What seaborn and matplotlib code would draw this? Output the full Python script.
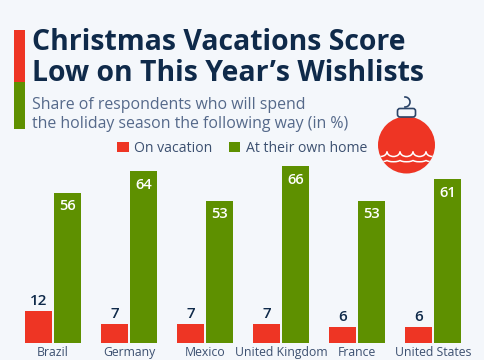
import numpy as np
import pandas as pd
import matplotlib
matplotlib.use("Agg")
import matplotlib.pyplot as plt
from matplotlib.patches import Rectangle, Circle, FancyBboxPatch, Arc
import seaborn as sns

countries = ["Brazil", "Germany", "Mexico", "United Kingdom", "France", "United States"]
on_vacation = [12, 7, 7, 7, 6, 6]
at_home = [56, 64, 53, 66, 53, 61]
series_names = ["On vacation", "At their own home"]

BG = "#f4f7fb"; RED = "#ee3524"; GREEN = "#5e9000"; NAVY = "#0f2a4a"; SLATE = "#55698a"; MID = "#3c5070"

sns.set_theme(style="white")
plt.rcParams["font.family"] = ["Open Sans", "DejaVu Sans"]
W, H = 485, 360
fig = plt.figure(figsize=(W/100, H/100), dpi=100, facecolor=BG)

df = pd.DataFrame({
    "country": countries * 2,
    "value": on_vacation + at_home,
    "series": [series_names[0]] * 6 + [series_names[1]] * 6,
})

base = 342.7
top = 60.0
ax = fig.add_axes([15/W, (H-base)/H, 456/W, (base-top)/H])
ax.set_facecolor("none")
sns.barplot(data=df, x="country", y="value", hue="series", order=countries,
            hue_order=series_names, palette=[RED, GREEN], width=0.765, gap=0.07,
            saturation=1, ax=ax, errorbar=None, legend=True, linewidth=0)
ax.set_xlim(-0.5, 5.5)
ax.set_ylim(0, (base-top)/2.68)
ax.set_xlabel(""); ax.set_ylabel("")
ax.set_yticks([])
ax.tick_params(axis="x", length=0, pad=2.2, labelsize=8.8, labelcolor=MID)
sns.despine(ax=ax, left=True, bottom=True)
ax.bar_label(ax.containers[0], padding=2, fontsize=11, fontweight="semibold", color=NAVY)
ax.bar_label(ax.containers[1], padding=-15, fontsize=10.5, fontweight="semibold", color="white")

h, l = ax.get_legend_handles_labels()
ax.legend(h, l, loc="center left", bbox_to_anchor=(117.5/W, 1-148.5/H), bbox_transform=fig.transFigure,
          ncol=2, frameon=False, handlelength=0.8, handleheight=0.8, handletextpad=0.4,
          columnspacing=1.15, fontsize=10.1, labelcolor=MID, borderpad=0, borderaxespad=0)

ov = fig.add_axes([0, 0, 1, 1], zorder=5)
ov.set_xlim(0, W); ov.set_ylim(H, 0); ov.axis("off")
ov.add_patch(Rectangle((14.5, 29.5), 11, 52, color=RED, lw=0))
ov.add_patch(Rectangle((14.5, 81.5), 11, 47, color=GREEN, lw=0))
ov.text(32.5, 42.5, "Christmas Vacations Score", fontsize=20.4, fontweight="bold", color=NAVY, va="center")
ov.text(32.5, 73.5, "Low on This Year\u2019s Wishlists", fontsize=20.4, fontweight="bold", color=NAVY, va="center")
ov.text(32.5, 105, "Share of respondents who will spend", fontsize=11.4, color=SLATE, va="center")
ov.text(32.5, 124.5, "the holiday season the following way (in %)", fontsize=11.4, color=SLATE, va="center")

# bauble
cx, cy, r = 406.5, 145, 28.5
ball = Circle((cx, cy), r, color=RED, lw=0)
ov.add_patch(ball)
ov.add_patch(FancyBboxPatch((397.5, 108.5), 18, 8.5, boxstyle="round,pad=0,rounding_size=2.5",
                            fc=BG, ec="#2b4468", lw=1.2))
ov.add_patch(Arc((405, 102), 10, 10, theta1=-100, theta2=100, color="#2b4468", lw=1.2))
for i in range(5):
    a = Arc((cx - 26 + 13*i, 151.5), 13, 10, theta1=0, theta2=180, color="white", lw=1.1)
    ov.add_patch(a)
    a.set_clip_path(ball)
for i in range(5):
    a = Arc((cx - 26 + 13*i, 160), 13, 3.5, theta1=0, theta2=180, color="white", lw=1.1)
    ov.add_patch(a)
    a.set_clip_path(ball)

fig.savefig("out.png", dpi=100, facecolor=BG)
